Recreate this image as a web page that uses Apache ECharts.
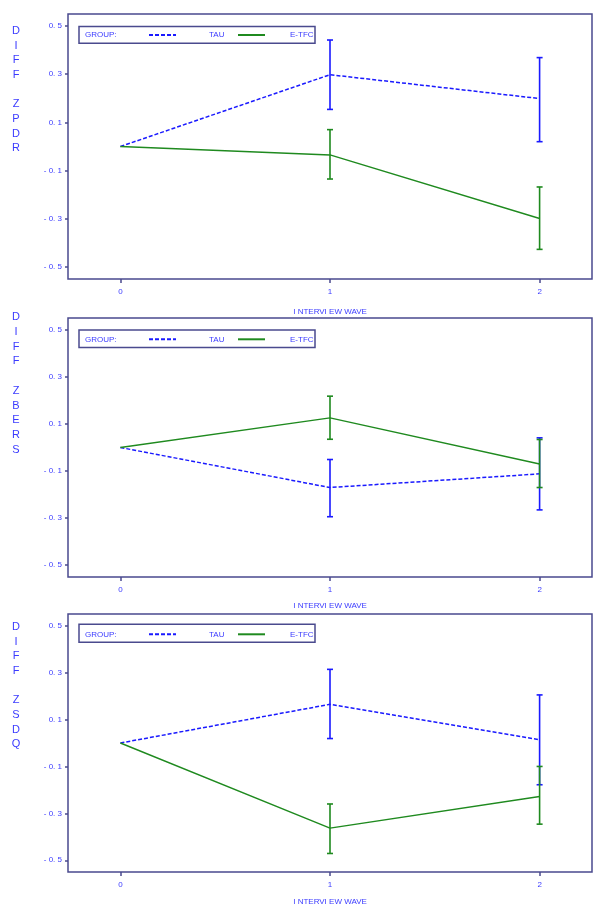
<!DOCTYPE html>
<html>
<head>
<meta charset="utf-8">
<script src="https://cdn.jsdelivr.net/npm/echarts@6/dist/echarts.min.js"></script>
<style>html,body{margin:0;padding:0;background:#fff}#c{width:601px;height:913px}</style>
</head>
<body>
<div id="c"></div>
<script>
// ---- data ----
const waves = [0, 1, 2];
const yTicks = [-0.5, -0.3, -0.1, 0.1, 0.3, 0.5];
const panelNames = ['ZPDR', 'ZBERS', 'ZSDQ'];
const seriesNames = ['TAU', 'E-TFC'];

const tauZPDR = [0, 0.298, 0.199];
const tauZPDRLow = [null, 0.154, 0.020];
const tauZPDRHigh = [null, 0.442, 0.369];
const etfcZPDR = [0, -0.035, -0.299];
const etfcZPDRLow = [null, -0.135, -0.427];
const etfcZPDRHigh = [null, 0.070, -0.168];

const tauZBERS = [0, -0.170, -0.112];
const tauZBERSLow = [null, -0.294, -0.265];
const tauZBERSHigh = [null, -0.051, 0.041];
const etfcZBERS = [0, 0.126, -0.070];
const etfcZBERSLow = [null, 0.035, -0.170];
const etfcZBERSHigh = [null, 0.218, 0.034];

const tauZSDQ = [0, 0.165, 0.014];
const tauZSDQLow = [null, 0.019, -0.178];
const tauZSDQHigh = [null, 0.314, 0.205];
const etfcZSDQ = [0, -0.363, -0.228];
const etfcZSDQLow = [null, -0.471, -0.346];
const etfcZSDQHigh = [null, -0.260, -0.100];

const panels = [
  {tau: tauZPDR, tauLo: tauZPDRLow, tauHi: tauZPDRHigh, etfc: etfcZPDR, etfcLo: etfcZPDRLow, etfcHi: etfcZPDRHigh},
  {tau: tauZBERS, tauLo: tauZBERSLow, tauHi: tauZBERSHigh, etfc: etfcZBERS, etfcLo: etfcZBERSLow, etfcHi: etfcZBERSHigh},
  {tau: tauZSDQ, tauLo: tauZSDQLow, tauHi: tauZSDQHigh, etfc: etfcZSDQ, etfcLo: etfcZSDQLow, etfcHi: etfcZSDQHigh}
];

// ---- layout / style ----
const FONT = "'Liberation Sans Narrow','Liberation Sans',Arial,sans-serif";
const TXT = '#3b3bff';
const FRAME = '#4a4a8e';
const BLUE = '#1a1aff';
const GREEN = '#1f8a1f';
const layout = [
  {top: 14, height: 265, nameGap: 28.5, titleY: 23.5, boxTop: 26.5, boxH: 16.8, legY: 35},
  {top: 318, height: 259, nameGap: 25, titleY: 310, boxTop: 330, boxH: 17.5, legY: 339.3},
  {top: 614, height: 258, nameGap: 26, titleY: 619.5, boxTop: 624.3, boxH: 18, legY: 634.3}
];

function fmtTick(v) {
  const s = (Math.round(v * 10) / 10).toFixed(1);
  return s.split('').join(' ').replace('0 . ', '0. ');
}

function errRender(params, api) {
  const x = api.value(0), lo = api.value(1), hi = api.value(2);
  if (lo == null || isNaN(lo)) return;
  const p1 = api.coord([x, lo]);
  const p2 = api.coord([x, hi]);
  const hw = 3;
  const style = {stroke: api.visual('color'), lineWidth: 1.6};
  return {
    type: 'group',
    children: [
      {type: 'line', shape: {x1: p1[0], y1: p1[1], x2: p2[0], y2: p2[1]}, style},
      {type: 'line', shape: {x1: p1[0] - hw, y1: p1[1], x2: p1[0] + hw, y2: p1[1]}, style},
      {type: 'line', shape: {x1: p2[0] - hw, y1: p2[1], x2: p2[0] + hw, y2: p2[1]}, style}
    ]
  };
}

const grid = [], xAxis = [], yAxis = [], series = [], legend = [], graphic = [];
panels.forEach((p, i) => {
  const L = layout[i];
  grid.push({left: 68, right: 9, top: L.top, height: L.height, show: true,
    borderColor: FRAME, borderWidth: 1.5, backgroundColor: 'transparent'});
  xAxis.push({
    type: 'value', gridIndex: i, min: -0.25, max: 2.25,
    name: 'I NTERVI EW WAVE', nameLocation: 'middle', nameGap: L.nameGap,
    nameTextStyle: {color: TXT, fontSize: 8, fontFamily: FONT},
    axisLine: {show: false, onZero: false}, splitLine: {show: false},
    axisTick: {show: true, inside: false, length: 4, customValues: waves, lineStyle: {color: FRAME, width: 1.5}},
    axisLabel: {customValues: waves, color: TXT, fontSize: 8, fontFamily: FONT, margin: 9}
  });
  yAxis.push({
    type: 'value', gridIndex: i, min: -0.55, max: 0.55,
    axisLine: {show: false, onZero: false}, splitLine: {show: false},
    axisTick: {show: true, length: 3, customValues: yTicks, lineStyle: {color: FRAME, width: 1.5}},
    axisLabel: {customValues: yTicks, color: TXT, fontSize: 8, fontFamily: FONT, margin: 6,
      formatter: fmtTick}
  });
  const mk = (arr) => waves.map((w, k) => [w, arr[k]]);
  const mkErr = (lo, hi) => waves.map((w, k) => [w, lo[k], hi[k]]).filter(d => d[1] != null);
  series.push({
    name: 'TAU', type: 'line', xAxisIndex: i, yAxisIndex: i, data: mk(p.tau), symbol: 'none',
    lineStyle: {color: BLUE, width: 1.5, type: [4, 2]}, itemStyle: {color: BLUE}, z: 3
  });
  series.push({
    name: 'TAU', type: 'custom', xAxisIndex: i, yAxisIndex: i, data: mkErr(p.tauLo, p.tauHi),
    renderItem: errRender, itemStyle: {color: BLUE}, z: 3, encode: {x: 0, y: [1, 2]}
  });
  series.push({
    name: 'E-TFC', type: 'line', xAxisIndex: i, yAxisIndex: i, data: mk(p.etfc), symbol: 'none',
    lineStyle: {color: GREEN, width: 1.4}, itemStyle: {color: GREEN}, z: 4
  });
  series.push({
    name: 'E-TFC', type: 'custom', xAxisIndex: i, yAxisIndex: i, data: mkErr(p.etfcLo, p.etfcHi),
    renderItem: errRender, itemStyle: {color: GREEN}, z: 4, encode: {x: 0, y: [1, 2]}
  });
  legend.push({
    data: ['TAU'], left: 148, top: L.legY - 4, itemWidth: 27, itemHeight: 8,
    selectedMode: false, padding: 0, orient: 'horizontal', itemStyle: {opacity: 0},
    textStyle: {color: TXT, fontSize: 8, fontFamily: FONT, padding: [0, 0, 0, 28]}
  });
  legend.push({
    data: ['E-TFC'], left: 237, top: L.legY - 4, itemWidth: 27, itemHeight: 8,
    selectedMode: false, padding: 0, orient: 'horizontal', itemStyle: {opacity: 0},
    textStyle: {color: TXT, fontSize: 8, fontFamily: FONT, padding: [0, 0, 0, 20]}
  });
  graphic.push({
    type: 'rect', shape: {x: 79, y: L.boxTop, width: 236, height: L.boxH},
    style: {fill: 'none', stroke: FRAME, lineWidth: 1.5}, z: 10
  });
  graphic.push({
    type: 'text', x: 85, y: L.legY, style: {text: 'GROUP:', fill: TXT, fontSize: 8, fontFamily: FONT, textVerticalAlign: 'middle'}, z: 10
  });
  graphic.push({
    type: 'text', x: 16, y: L.titleY,
    style: {text: ('DIFF').split('').join('\n') + '\n\n' + panelNames[i].split('').join('\n'),
      fill: TXT, fontSize: 11, fontFamily: "'Liberation Sans',Arial,sans-serif", lineHeight: 14.7, align: 'center'}
  });
});

const chart = echarts.init(document.getElementById('c'), null, {renderer: 'canvas'});
chart.setOption({
  backgroundColor: '#fff',
  animation: false,
  grid, xAxis, yAxis, series, legend, graphic
});
</script>
</body>
</html>
